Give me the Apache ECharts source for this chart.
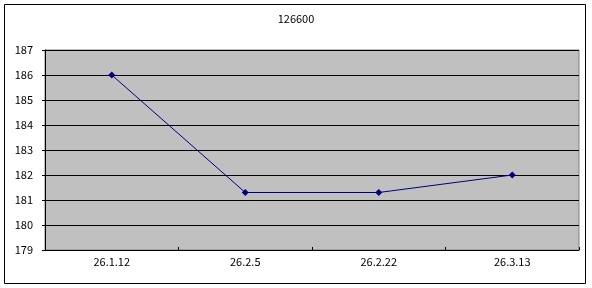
<!DOCTYPE html>
<html><head><meta charset="utf-8">
<script src="https://cdn.jsdelivr.net/npm/echarts@6/dist/echarts.min.js"></script>
<style>html,body{margin:0;padding:0;background:#fff}#c{width:592px;height:288px}</style>
</head><body><div id="c"></div>
<script>
const categories = ['26.1.12', '26.2.5', '26.2.22', '26.3.13'];
const values = [186, 181.3, 181.3, 182];
const yTicks = [179, 180, 181, 182, 183, 184, 185, 186, 187];
const titleText = '126600';

const font = '"Noto Sans CJK JP", sans-serif';
const chart = echarts.init(document.getElementById('c'), null, {renderer: 'canvas'});
chart.setOption({
  animation: false,
  backgroundColor: '#fff',
  title: {text: titleText, left: 'center', top: 8, textStyle: {fontFamily: font, fontSize: 11, fontWeight: 'normal', color: '#000'}},
  graphic: [{type: 'rect', shape: {x: 4.5, y: 4.5, width: 581, height: 279}, style: {fill: 'none', stroke: '#000', lineWidth: 1}, z: 100}],
  grid: {left: 45, top: 50, width: 534, height: 200, show: true, backgroundColor: '#c0c0c0', borderColor: '#808080', borderWidth: 1},
  xAxis: {
    type: 'category', data: categories, boundaryGap: true,
    axisLine: {lineStyle: {color: '#000', width: 1}},
    axisTick: {show: true, inside: true, length: 3, lineStyle: {color: '#000'}},
    axisLabel: {fontFamily: font, fontSize: 11, color: '#000', margin: 6},
    splitLine: {show: false}
  },
  yAxis: {
    type: 'value', min: yTicks[0], max: yTicks[yTicks.length - 1], interval: 1,
    axisLine: {show: true, lineStyle: {color: '#000', width: 1}},
    axisTick: {show: true, length: 3, lineStyle: {color: '#000'}},
    axisLabel: {fontFamily: font, fontSize: 11, color: '#000', margin: 12},
    splitLine: {show: true, lineStyle: {color: '#000', width: 1}}
  },
  series: [{
    type: 'line', data: values,
    symbol: 'diamond', symbolSize: 7,
    lineStyle: {color: '#000080', width: 1},
    itemStyle: {color: '#000080'}
  }]
});
</script></body></html>
